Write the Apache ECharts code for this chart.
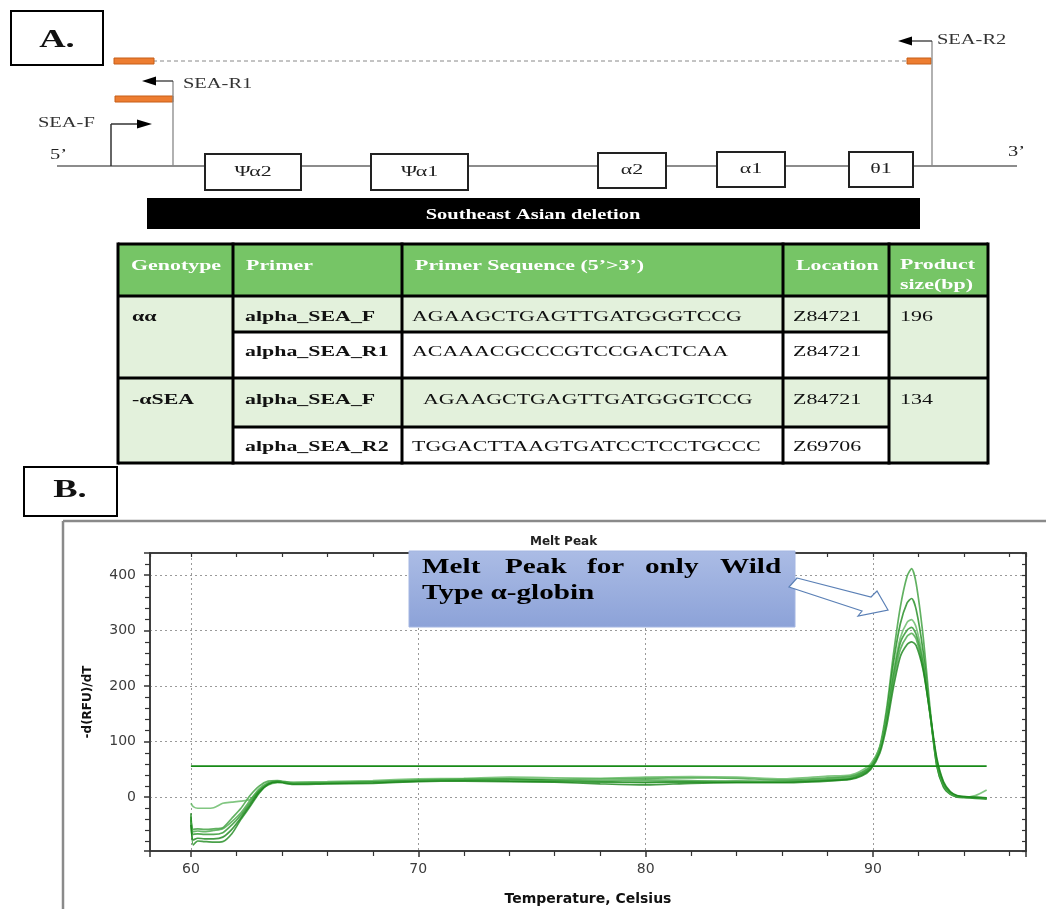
<!DOCTYPE html>
<html>
<head>
<meta charset="utf-8">
<script src="https://cdn.jsdelivr.net/npm/echarts@6/dist/echarts.min.js"></script>
<style>
  html, body { margin: 0; padding: 0; background: #fff; }
  #chart { width: 1046px; height: 909px; }
</style>
</head>
<body>
<div id="chart"></div>
<script>
// --- melt peak curves (temperature in C, -d(RFU)/dT) ---
const temps = [60.0, 60.1, 60.3, 60.6, 61.0, 61.4, 61.8, 62.2, 62.6, 63.0, 63.4, 63.8,
  64.5, 66, 68, 70, 72, 74, 76, 78, 80, 82, 84, 86, 88,
  89.0, 89.5, 89.9, 90.3, 90.6, 90.9, 91.2, 91.5, 91.7, 91.9, 92.2, 92.5, 92.8, 93.1, 93.4, 93.7, 94.0, 94.5, 95.0];

const well1 = [-35, -58, -57, -58, -57, -55, -38, -20, 3, 20, 29, 30,
  26, 27, 28, 31, 33, 33, 32, 33, 34, 35, 34, 31, 35,
  38, 45, 56, 92, 160, 258, 342, 398, 412, 385, 292, 165, 58, 20, 6, 1, 0, -1, -2];
const well2 = [-29, -86, -79, -80, -81, -80, -66, -40, -17, 7, 24, 28,
  25, 26, 28, 30, 31, 32, 30, 28, 27, 28, 29, 28, 31,
  34, 42, 54, 88, 150, 242, 312, 350, 358, 338, 264, 155, 58, 18, 5, 0, -1, -2, -3];
const well3 = [-11, -17, -20, -20, -19, -11, -9, -7, -4, 12, 22, 26,
  27, 28, 30, 33, 34, 36, 35, 34, 36, 37, 36, 33, 38,
  40, 48, 60, 90, 146, 226, 287, 315, 320, 306, 248, 155, 64, 22, 7, 2, 0, 3, 13];
const well4 = [-40, -67, -66, -67, -67, -64, -50, -32, -10, 12, 25, 28,
  24, 25, 26, 29, 30, 29, 28, 27, 26, 27, 27, 27, 30,
  33, 40, 52, 84, 140, 218, 278, 301, 306, 293, 240, 152, 65, 24, 8, 2, 0, -1, -3];
const well5 = [-45, -62, -61, -62, -60, -57, -44, -28, -6, 15, 26, 29,
  25, 26, 27, 30, 32, 31, 29, 30, 31, 30, 28, 29, 33,
  36, 44, 55, 85, 138, 210, 266, 290, 295, 285, 234, 152, 68, 26, 9, 2, 1, 0, -2];
const well6 = [-50, -77, -74, -75, -75, -72, -58, -37, -14, 9, 23, 27,
  23, 24, 25, 28, 29, 28, 27, 24, 22, 25, 26, 26, 29,
  32, 38, 50, 79, 128, 198, 253, 275, 280, 273, 230, 155, 72, 28, 10, 3, 1, 0, -1];

const thresholdTemps = [60, 95];
const thresholdValues = [56, 56];

// --- panel A texts ---
const geneNames = ['Ψα2', 'Ψα1', 'α2', 'α1', 'θ1'];
const tableHeader = ['Genotype', 'Primer', 'Primer Sequence (5’>3’)', 'Location'];
const productHeader = ['Product', 'size(bp)'];
const genotypes = ['αα', '-αSEA'];
const primerNames = ['alpha_SEA_F', 'alpha_SEA_R1', 'alpha_SEA_F', 'alpha_SEA_R2'];
const primerSeqs = ['AGAAGCTGAGTTGATGGGTCCG', 'ACAAACGCCCGTCCGACTCAA', '  AGAAGCTGAGTTGATGGGTCCG', 'TGGACTTAAGTGATCCTCCTGCCC'];
const locations = ['Z84721', 'Z84721', 'Z84721', 'Z69706'];
const productSizes = ['196', '134'];
const noteWords = ['Melt', 'Peak', 'for', 'only', 'Wild'];
const noteLine2 = 'Type α-globin';

const SERIF = '"Liberation Serif", "Times New Roman", serif';
const SX = 1.46; // the source image is stretched horizontally

const g = [];
function line(x1, y1, x2, y2, stroke, w, dash, z) {
  g.push({ type: 'line', z: z || 10, shape: { x1, y1, x2, y2 }, style: { stroke, lineWidth: w, lineDash: dash || null } });
}
function rect(x, y, w, h, fill, stroke, lw, z) {
  g.push({ type: 'rect', z: z || 10, shape: { x, y, width: w, height: h }, style: { fill, stroke: stroke || null, lineWidth: lw || 0 } });
}
function poly(points, fill, stroke, lw, z) {
  g.push({ type: 'polygon', z: z || 10, shape: { points }, style: { fill, stroke: stroke || null, lineWidth: lw || 0 } });
}
function text(x, y, str, size, o) {
  o = o || {};
  g.push({
    type: 'text', z: o.z || 12, x, y, scaleX: SX,
    style: {
      text: str, x: 0, y: 0, fill: o.color || '#111',
      font: (o.bold ? 'bold ' : '') + size + 'px ' + SERIF,
      align: o.align || 'left', verticalAlign: 'middle'
    }
  });
}

// panel label A
rect(11, 11, 92, 54, '#fff', '#000', 2);
text(57, 41, 'A.', 25, { bold: true, align: 'center' });

// deletion map
line(153, 61, 907, 61, '#888', 1, [4, 3]);
const orange = '#ED7D31';
rect(114, 58, 40, 6, orange, '#c65f18', 1);
rect(115, 96, 58, 6, orange, '#c65f18', 1);
rect(907, 58, 24, 6, orange, '#c65f18', 1);

line(57, 166, 1017, 166, '#666', 1.5);
// SEA-F
line(111, 166, 111, 124, '#333', 1.5);
line(111, 124, 138, 124, '#333', 1.5);
poly([[152, 124], [137, 119.5], [137, 128.5]], '#000');
// SEA-R1
line(173, 166, 173, 81, '#888', 1.3);
line(173, 81, 155, 81, '#333', 1.3);
poly([[142, 81], [156, 76.5], [156, 85.5]], '#000');
// SEA-R2
line(932, 166, 932, 41, '#888', 1.3);
line(932, 41, 912, 41, '#333', 1.3);
poly([[898, 41], [912, 36.5], [912, 45.5]], '#000');

text(38, 123, 'SEA-F', 14, { color: '#333' });
text(183, 84, 'SEA-R1', 14, { color: '#333' });
text(937, 40, 'SEA-R2', 14, { color: '#333' });
text(50, 155, '5’', 14, { color: '#222' });
text(1008, 152, '3’', 14, { color: '#222' });

const geneBoxes = [[205, 154, 96, 36], [371, 154, 97, 36], [598, 153, 68, 35], [717, 152, 68, 35], [849, 152, 64, 35]];
geneBoxes.forEach((b, i) => {
  rect(b[0], b[1], b[2], b[3], '#fff', '#222', 2);
  text(b[0] + b[2] / 2, b[1] + b[3] / 2, geneNames[i], 15, { align: 'center', color: '#222' });
});

rect(147, 198, 773, 31, '#000');
text(533, 215, 'Southeast Asian deletion', 14, { bold: true, color: '#fff', align: 'center' });

// primer table
const cx = [118, 233, 402, 783, 889, 988];
const ry = [244, 296, 332, 378, 427, 463];
const green = '#76C566', pale = '#E3F1DC';
rect(cx[0], ry[0], cx[5] - cx[0], ry[1] - ry[0], green);
rect(cx[0], ry[1], cx[1] - cx[0], ry[5] - ry[1], pale);
rect(cx[4], ry[1], cx[5] - cx[4], ry[5] - ry[1], pale);
for (let r = 0; r < 4; r++) {
  rect(cx[1], ry[r + 1], cx[4] - cx[1], ry[r + 2] - ry[r + 1], r % 2 === 0 ? pale : '#fff');
}
[ry[0], ry[1], ry[3], ry[5]].forEach(y => line(cx[0], y, cx[5], y, '#000', 3));
[ry[2], ry[4]].forEach(y => line(cx[1], y, cx[4], y, '#000', 3));
cx.forEach(x => line(x, ry[0] - 1.5, x, ry[5] + 1.5, '#000', 3));

tableHeader.forEach((h, i) => text(cx[i] + 13, 266, h, 15, { bold: true, color: '#fff' }));
text(cx[4] + 11, 265, productHeader[0], 15, { bold: true, color: '#fff' });
text(cx[4] + 11, 285, productHeader[1], 15, { bold: true, color: '#fff' });
const rowText = [317, 352, 400, 447];
primerNames.forEach((p, r) => {
  text(cx[1] + 12, rowText[r], p, 15, { bold: true });
  text(cx[2] + 10, rowText[r], primerSeqs[r], 15);
  text(cx[3] + 10, rowText[r], locations[r], 15);
});
genotypes.forEach((gt, k) => text(cx[0] + 14, rowText[k * 2], gt, 15, { bold: true }));
productSizes.forEach((s, k) => text(cx[4] + 11, rowText[k * 2], s, 15));

// panel B
rect(24, 467, 93, 49, '#fff', '#000', 2);
text(70, 491, 'B.', 25, { bold: true, align: 'center' });
line(63, 521, 1046, 521, '#8a8a8a', 2.5);
line(63, 521, 63, 909, '#8a8a8a', 2.5);

// annotation box and arrow
g.push({
  type: 'rect', z: 50, shape: { x: 409, y: 551, width: 386, height: 76 },
  style: {
    fill: { type: 'linear', x: 0, y: 0, x2: 0, y2: 1, colorStops: [{ offset: 0, color: '#abbce5' }, { offset: 1, color: '#8ca2d8' }] },
    stroke: '#a4b6e2', lineWidth: 1
  }
});
const wordX = [422, 505, 587, 645, 720];
noteWords.forEach((w, i) => text(wordX[i], 568, w, 20, { bold: true, z: 55, color: '#000' }));
text(422, 594, noteLine2, 20, { bold: true, z: 55, color: '#000' });
poly([[797, 578], [871, 597], [877, 591], [888, 610], [858, 616], [862, 611], [789, 587]], '#fff', '#5b80b6', 1.2, 55);

const wells = [well1, well2, well3, well4, well5, well6];
const wellColors = ['#3a9e3a', '#1d8a1d', '#62b862', '#2b952b', '#46a646', '#178317'];
const series = wells.map((vals, i) => ({
  type: 'line',
  data: temps.map((t, k) => [t, vals[k]]),
  symbol: 'none',
  smooth: 0.25,
  lineStyle: { color: wellColors[i], width: 1.7, opacity: 0.8 },
  z: 3
}));
series.push({
  type: 'line',
  data: thresholdTemps.map((t, k) => [t, thresholdValues[k]]),
  symbol: 'none',
  lineStyle: { color: '#178a17', width: 1.8 },
  z: 4
});

const axisColor = '#333';
const dotted = { show: true, showMinLine: false, showMaxLine: false, lineStyle: { color: '#9a9a9a', type: [2, 3], width: 1 } };
const labelStyle = { color: '#3c3c3c', fontFamily: 'DejaVu Sans', fontSize: 14 };

const chart = echarts.init(document.getElementById('chart'), null, { renderer: 'canvas' });
chart.setOption({
  animation: false,
  backgroundColor: '#fff',
  title: {
    text: 'Melt Peak', left: 525, top: 531,
    textStyle: { fontFamily: 'DejaVu Sans', fontSize: 12, fontWeight: 'bold', color: '#222' }
  },
  grid: { left: 150, top: 553, width: 876, height: 298, show: true, borderColor: axisColor, borderWidth: 1.5 },
  xAxis: [{
    type: 'value', min: 58.2, max: 96.73, position: 'bottom',
    axisLine: { show: true, onZero: false, lineStyle: { color: axisColor, width: 1.5 } },
    axisTick: { show: true, length: 6, lineStyle: { color: axisColor, width: 1.5 } },
    minorTick: { show: true, splitNumber: 5, length: 5, lineStyle: { color: axisColor, width: 1.2 } },
    axisLabel: Object.assign({ showMinLabel: false, showMaxLabel: false, margin: 11 }, labelStyle),
    splitLine: dotted,
    name: 'Temperature, Celsius', nameLocation: 'middle', nameGap: 41,
    nameTextStyle: { fontFamily: 'DejaVu Sans', fontWeight: 'bold', fontSize: 14, color: '#111' }
  }, {
    type: 'value', min: 58.2, max: 96.73, position: 'top',
    axisLine: { show: true, onZero: false, lineStyle: { color: axisColor, width: 1.5 } },
    axisTick: { show: true, inside: true, length: 4, lineStyle: { color: axisColor, width: 1.2 } },
    minorTick: { show: true, splitNumber: 5, length: 4, lineStyle: { color: axisColor, width: 1.2 } },
    axisLabel: { show: false },
    splitLine: { show: false }
  }],
  yAxis: [{
    type: 'value', min: -97, max: 440, position: 'left',
    axisLine: { show: true, onZero: false, lineStyle: { color: axisColor, width: 1.5 } },
    axisTick: { show: true, length: 6, lineStyle: { color: axisColor, width: 1.5 } },
    minorTick: { show: true, splitNumber: 5, length: 5, lineStyle: { color: axisColor, width: 1.2 } },
    axisLabel: Object.assign({ showMinLabel: false, showMaxLabel: false, margin: 14 }, labelStyle),
    splitLine: dotted,
    name: '-d(RFU)/dT', nameLocation: 'middle', nameGap: 56, nameRotate: 90,
    nameTextStyle: { fontFamily: 'DejaVu Sans', fontWeight: 'bold', fontSize: 12, color: '#111' }
  }, {
    type: 'value', min: -97, max: 440, position: 'right',
    axisLine: { show: true, onZero: false, lineStyle: { color: axisColor, width: 1.5 } },
    axisTick: { show: true, inside: true, length: 4, lineStyle: { color: axisColor, width: 1.2 } },
    minorTick: { show: true, splitNumber: 5, length: 4, lineStyle: { color: axisColor, width: 1.2 } },
    axisLabel: { show: false },
    splitLine: { show: false }
  }],
  graphic: g,
  series: series
});
</script>
</body>
</html>
